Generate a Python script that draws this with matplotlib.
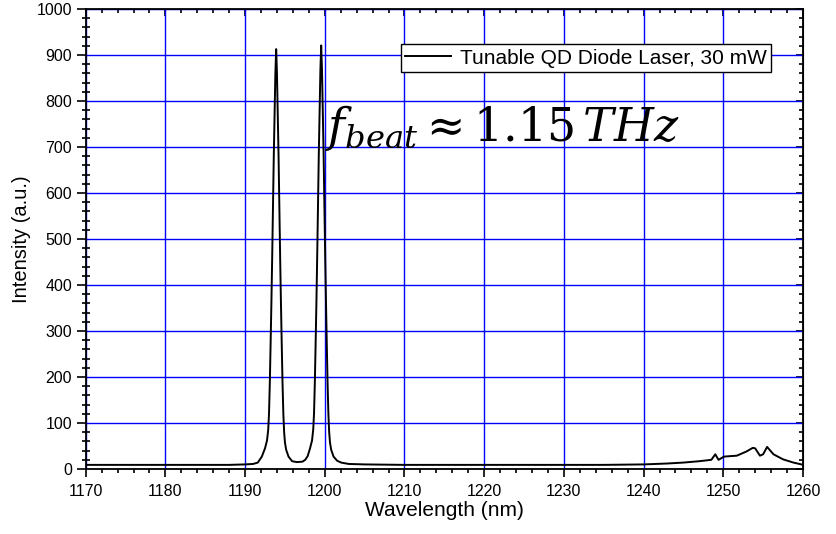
import numpy as np
import matplotlib.pyplot as plt

plt.rcParams['font.family'] = ['Liberation Sans', 'DejaVu Sans']
plt.rcParams['mathtext.fontset'] = 'dejavuserif'

# spectrum (wavelength nm, intensity a.u.)
wavelength = [1170, 1175, 1180, 1185, 1188, 1190, 1191.0, 1191.6, 1192.1, 1192.5,
              1192.75, 1192.9, 1193.0, 1193.1, 1193.2, 1193.3, 1193.4, 1193.5, 1193.6,
              1193.7, 1193.8, 1193.9, 1194.0, 1194.1, 1194.2, 1194.3, 1194.4, 1194.5,
              1194.6, 1194.7, 1194.8, 1194.9, 1195.0, 1195.15, 1195.45, 1195.9, 1196.5,
              1197.2, 1197.55, 1197.85, 1198.15, 1198.4, 1198.55, 1198.65, 1198.75,
              1198.85, 1198.95, 1199.05, 1199.15, 1199.25, 1199.35, 1199.45, 1199.55,
              1199.65, 1199.75, 1199.85, 1199.95, 1200.05, 1200.15, 1200.25, 1200.35,
              1200.45, 1200.55, 1200.65, 1200.8, 1201.1, 1201.55, 1202.05, 1203, 1205,
              1210, 1215, 1220, 1225, 1230, 1235, 1240, 1243, 1245, 1247, 1248.5,
              1249.0, 1249.4, 1250.1, 1251.7, 1252.9, 1253.7, 1254.0, 1254.6, 1255.0,
              1255.5, 1256.3, 1257.5, 1258.8, 1259.8, 1260]
intensity = [9, 9, 9, 9, 9, 10, 11, 14, 27, 45,
             62, 85, 120, 185, 270, 360, 460, 570, 680,
             770, 860, 913, 860, 770, 680, 570, 460, 360,
             270, 185, 120, 80, 58, 42, 27, 17, 15,
             16, 20, 28, 45, 62, 86, 121, 187,
             272, 363, 464, 575, 686, 777, 868, 921,
             868, 777, 686, 575, 464, 363, 272, 187,
             121, 80, 58, 42, 27, 18, 14, 11, 10,
             9, 9, 9, 9, 9, 9, 10, 12, 14, 17, 20,
             32, 20, 27, 29, 38, 46, 45, 29, 32,
             48, 32, 21, 14, 10, 9]

fig, ax = plt.subplots(figsize=(8.36, 5.34), dpi=100)
fig.subplots_adjust(left=0.1025, right=0.9605, bottom=0.1217, top=0.983)

ax.plot(wavelength, intensity, color='black', lw=1.4,
        label='Tunable QD Diode Laser, 30 mW')

ax.set_xlim(1170, 1260)
ax.set_ylim(0, 1000)
ax.set_xticks(np.arange(1170, 1261, 10))
ax.set_yticks(np.arange(0, 1001, 100))
ax.set_xticks(np.arange(1170, 1261, 2), minor=True)
ax.set_yticks(np.arange(0, 1001, 20), minor=True)
ax.grid(True, which='major', color='#0000ff', lw=1)
ax.set_axisbelow(True)

# bottom / left ticks
ax.tick_params(axis='x', which='major', direction='out', length=5.5, width=1.2,
               labelsize=11.5, pad=5)
ax.tick_params(axis='x', which='minor', direction='out', length=3, width=1.2)
ax.tick_params(axis='y', which='major', direction='out', length=6.2, width=1.2,
               labelsize=11.5, pad=3.5)
ax.tick_params(axis='y', which='minor', direction='inout', length=6, width=1.2)
for s in ax.spines.values():
    s.set_linewidth(1.3)

# top / right ticks point inward
top = ax.secondary_xaxis('top')
top.set_xticks(np.arange(1170, 1261, 10))
top.set_xticks(np.arange(1170, 1261, 2), minor=True)
top.tick_params(which='major', direction='in', length=5, width=1.2, labeltop=False)
top.tick_params(which='minor', direction='in', length=3, width=1.2)
right = ax.secondary_yaxis('right')
right.set_yticks(np.arange(0, 1001, 100))
right.set_yticks(np.arange(0, 1001, 20), minor=True)
right.tick_params(which='major', direction='in', length=5, width=1.2, labelright=False)
right.tick_params(which='minor', direction='in', length=3, width=1.2)

ax.set_xlabel('Wavelength (nm)', fontsize=15, labelpad=2)
ax.set_ylabel('Intensity (a.u.)', fontsize=14.5, labelpad=4)

leg = ax.legend(loc='upper right', bbox_to_anchor=(0.955, 0.923), fontsize=15,
                fancybox=False, edgecolor='black', framealpha=1,
                borderpad=0.2, handlelength=2.2, handletextpad=0.4, borderaxespad=0)
leg.get_frame().set_linewidth(1)

ax.text(1200, 713, r'$f_{beat} \approx 1.15\,THz$', fontsize=33, color='black')

fig.savefig('out.png', dpi=100)
